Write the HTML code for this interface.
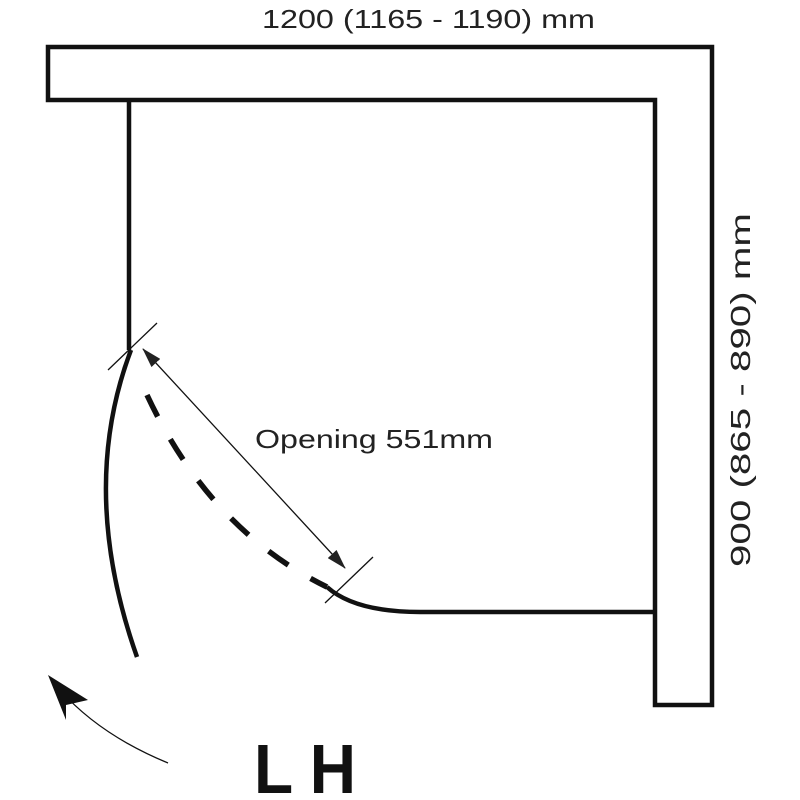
<!DOCTYPE html>
<html><head><style>body{margin:0;background:#fff}svg{display:block}</style></head><body>
<svg width="800" height="800" viewBox="0 0 800 800" xmlns="http://www.w3.org/2000/svg">
<defs>
<marker id="ah" viewBox="0 0 20 12" refX="19" refY="6" markerWidth="20" markerHeight="12" orient="auto-start-reverse" markerUnits="userSpaceOnUse"><path d="M0,0 L20,6 L0,12 z" fill="#222"/></marker>
</defs>
<g font-family="Liberation Sans, sans-serif" fill="#222">
<text x="262" y="28" font-size="26" textLength="333" lengthAdjust="spacingAndGlyphs">1200 (1165 - 1190) mm</text>
<text transform="translate(750,567) rotate(-90)" font-size="28" textLength="354" lengthAdjust="spacingAndGlyphs">900 (865 - 890) mm</text>
<text x="255" y="448" font-size="26" textLength="238" lengthAdjust="spacingAndGlyphs">Opening 551mm</text>
<text x="254" y="793" font-size="70" font-weight="bold" textLength="102" lengthAdjust="spacingAndGlyphs" fill="#111">L H</text>
</g>
<g fill="none" stroke="#111" stroke-width="4.5">
<path d="M48,47 H712 V705 H655 V100 H48 Z" stroke-linejoin="miter"/>
<path d="M129,100 V350"/>
<path d="M131,350 Q78,490 137,657"/>
<path d="M147,395 Q210,530 327,587" stroke-dasharray="24,26" stroke-width="5.5"/>
<path d="M327,587 Q355,612 420,612 H655"/>
</g>
<g stroke="#111" stroke-width="1.3" fill="none">
<line x1="108" y1="370" x2="157" y2="323"/>
<line x1="325" y1="603" x2="373" y2="557"/>
<line x1="143" y1="349" x2="345" y2="568" marker-start="url(#ah)" marker-end="url(#ah)"/>
<path d="M168,763 Q100,735 60,690"/>
</g>
<path d="M48,675 L88,700 L66,705 L66,720 Z" fill="#111"/>
</svg>
</body></html>
